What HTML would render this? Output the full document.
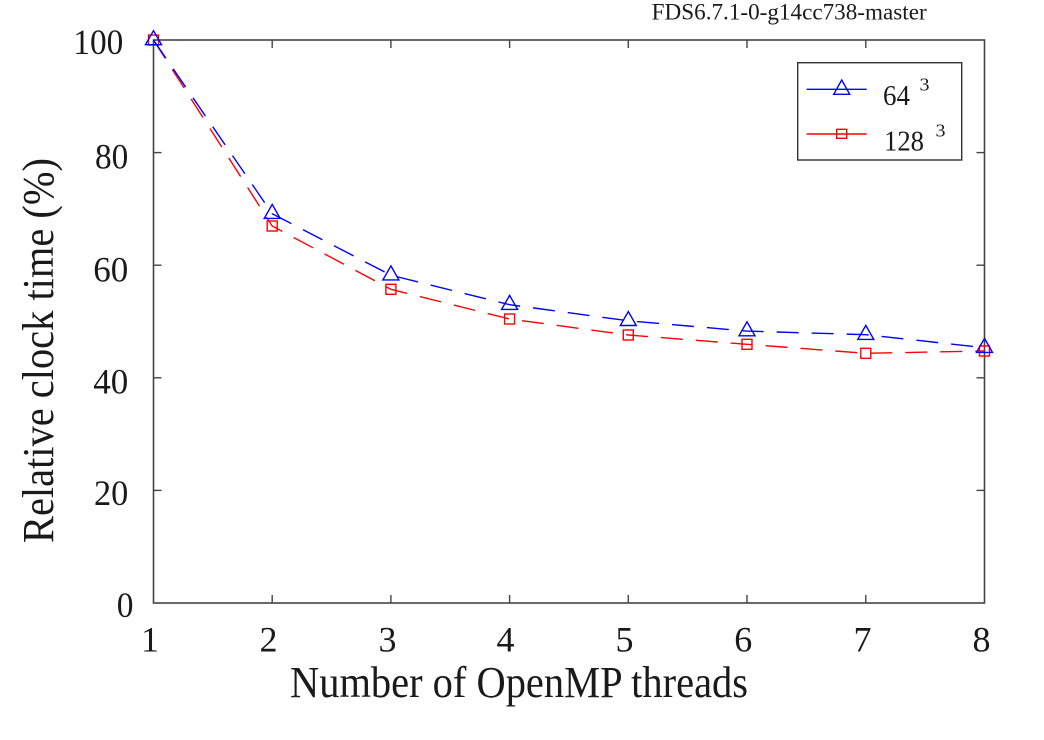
<!DOCTYPE html>
<html>
<head>
<meta charset="utf-8">
<style>
html,body{margin:0;padding:0;background:#fff;}
svg{display:block;}
text{font-family:"Liberation Serif","Times New Roman",serif;fill:#1a1a1a;}
</style>
</head>
<body>
<svg width="1044" height="740" viewBox="0 0 1044 740" xmlns="http://www.w3.org/2000/svg">
<rect width="1044" height="740" fill="#fff"/>
<!-- title -->
<text x="651.7" y="19.3" font-size="23" textLength="275" lengthAdjust="spacingAndGlyphs">FDS6.7.1-0-g14cc738-master</text>

<!-- axes box -->
<rect x="153.5" y="40" width="831" height="563" fill="none" stroke="#444" stroke-width="1.6"/>

<!-- ticks -->
<g stroke="#444" stroke-width="1.4">
<!-- bottom -->
<line x1="272.2" y1="603" x2="272.2" y2="595"/>
<line x1="390.9" y1="603" x2="390.9" y2="595"/>
<line x1="509.6" y1="603" x2="509.6" y2="595"/>
<line x1="628.3" y1="603" x2="628.3" y2="595"/>
<line x1="747" y1="603" x2="747" y2="595"/>
<line x1="865.8" y1="603" x2="865.8" y2="595"/>
<!-- top -->
<line x1="272.2" y1="40" x2="272.2" y2="48"/>
<line x1="390.9" y1="40" x2="390.9" y2="48"/>
<line x1="509.6" y1="40" x2="509.6" y2="48"/>
<line x1="628.3" y1="40" x2="628.3" y2="48"/>
<line x1="747" y1="40" x2="747" y2="48"/>
<line x1="865.8" y1="40" x2="865.8" y2="48"/>
<!-- left -->
<line x1="153.5" y1="152.6" x2="161.5" y2="152.6"/>
<line x1="153.5" y1="265.2" x2="161.5" y2="265.2"/>
<line x1="153.5" y1="377.8" x2="161.5" y2="377.8"/>
<line x1="153.5" y1="490.4" x2="161.5" y2="490.4"/>
<!-- right -->
<line x1="984.5" y1="152.6" x2="976.5" y2="152.6"/>
<line x1="984.5" y1="265.2" x2="976.5" y2="265.2"/>
<line x1="984.5" y1="377.8" x2="976.5" y2="377.8"/>
<line x1="984.5" y1="490.4" x2="976.5" y2="490.4"/>
</g>

<!-- y tick labels -->
<g font-size="36">
<text x="73.3" y="54" textLength="50" lengthAdjust="spacingAndGlyphs">100</text>
<text x="95" y="168.3" textLength="33.3" lengthAdjust="spacingAndGlyphs">80</text>
<text x="93.3" y="281.7" textLength="35" lengthAdjust="spacingAndGlyphs">60</text>
<text x="93.3" y="393.3" textLength="35" lengthAdjust="spacingAndGlyphs">40</text>
<text x="94" y="505" textLength="34.3" lengthAdjust="spacingAndGlyphs">20</text>
<text x="116.7" y="617" textLength="16.7" lengthAdjust="spacingAndGlyphs">0</text>
</g>

<!-- x tick labels -->
<g font-size="36" text-anchor="middle">
<text x="150" y="651.5">1</text>
<text x="268.5" y="651.5">2</text>
<text x="387.5" y="651.5">3</text>
<text x="505.5" y="651.5">4</text>
<text x="624.5" y="651.5">5</text>
<text x="743.3" y="651.5">6</text>
<text x="862.5" y="651.5">7</text>
<text x="981.5" y="651.5">8</text>
</g>

<!-- axis labels -->
<text x="290" y="697" font-size="44" textLength="458" lengthAdjust="spacingAndGlyphs">Number of OpenMP threads</text>
<text transform="translate(53,543) rotate(-90)" x="0" y="0" font-size="44" textLength="385" lengthAdjust="spacingAndGlyphs">Relative clock time (%)</text>

<!-- series: 128^3 red -->
<polyline fill="none" stroke="#ff0000" stroke-width="1.4" stroke-dasharray="22,13"
 points="153.5,40 272.2,226 390.9,289.3 509.6,319 628.3,335 747,344.3 865.8,353.3 984.5,351"/>
<g fill="none" stroke="#ff0000" stroke-width="1.4">
<rect x="148.5" y="35" width="10" height="10"/>
<rect x="267.2" y="221" width="10" height="10"/>
<rect x="385.9" y="284.3" width="10" height="10"/>
<rect x="504.6" y="314" width="10" height="10"/>
<rect x="623.3" y="330" width="10" height="10"/>
<rect x="742" y="339.3" width="10" height="10"/>
<rect x="860.8" y="348.3" width="10" height="10"/>
<rect x="979.5" y="346" width="10" height="10"/>
</g>

<!-- series: 64^3 blue -->
<polyline fill="none" stroke="#0000ff" stroke-width="1.4" stroke-dasharray="22,13"
 points="153.5,40 272.2,213.7 390.9,275.2 509.6,304.7 628.3,320.8 747,331.1 865.8,334.7 984.5,347.7"/>
<g fill="none" stroke="#0000ff" stroke-width="1.4">
<polygon points="153.5,30.7 161.5,44.7 145.5,44.7"/>
<polygon points="272.2,204.4 280.2,218.4 264.2,218.4"/>
<polygon points="390.9,265.9 398.9,279.9 382.9,279.9"/>
<polygon points="509.6,295.4 517.6,309.4 501.6,309.4"/>
<polygon points="628.3,311.5 636.3,325.5 620.3,325.5"/>
<polygon points="747,321.8 755,335.8 739,335.8"/>
<polygon points="865.8,325.4 873.8,339.4 857.8,339.4"/>
<polygon points="984.5,338.4 992.5,352.4 976.5,352.4"/>
</g>

<!-- legend -->
<rect x="797.7" y="62.7" width="164" height="97.3" fill="#fff" stroke="#333" stroke-width="1.4"/>
<line x1="806.7" y1="89.3" x2="866.7" y2="89.3" stroke="#0000ff" stroke-width="1.4"/>
<polygon points="841.7,80 849.7,94.3 833.7,94.3" fill="none" stroke="#0000ff" stroke-width="1.4"/>
<line x1="806.7" y1="134" x2="866.7" y2="134" stroke="#ff0000" stroke-width="1.4"/>
<rect x="836.7" y="129.3" width="10" height="9" fill="none" stroke="#ff0000" stroke-width="1.4"/>
<text x="883" y="105" font-size="28" textLength="27" lengthAdjust="spacingAndGlyphs">64</text>
<text x="919.5" y="90.7" font-size="18" textLength="10" lengthAdjust="spacingAndGlyphs">3</text>
<text x="884" y="150.7" font-size="28" textLength="40" lengthAdjust="spacingAndGlyphs">128</text>
<text x="935.5" y="136.7" font-size="18" textLength="10" lengthAdjust="spacingAndGlyphs">3</text>
</svg>
</body>
</html>
